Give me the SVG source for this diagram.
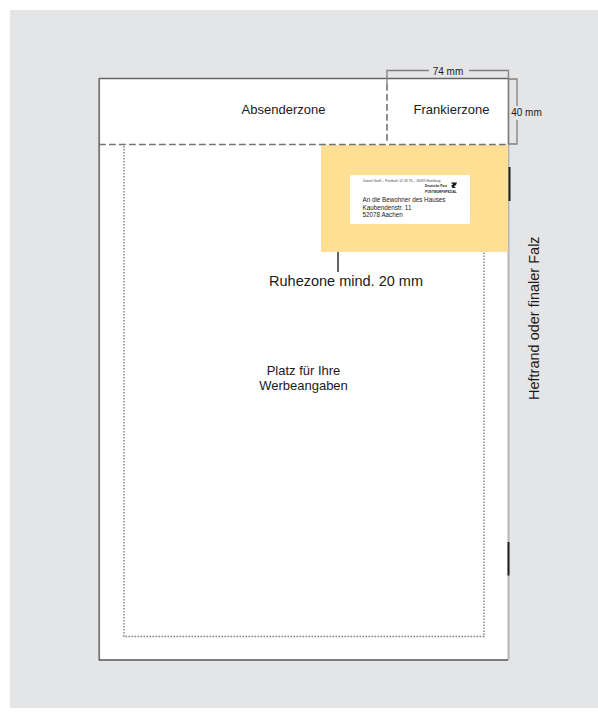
<svg xmlns="http://www.w3.org/2000/svg" width="598" height="718" viewBox="0 0 598 718">
<style>
text{font-family:"Liberation Sans",Arial,sans-serif;fill:#1a1a1a}
.t13{font-size:13px;text-anchor:middle}
.t11{font-size:10px;text-anchor:middle}
.dim{fill:none;stroke:#808080;stroke-width:1.300}
.dash{fill:none;stroke:#737373;stroke-width:1.600;stroke-dasharray:6.800 3.200}
</style>
<rect width="598" height="718" fill="#fff"/>
<rect x="10" y="10" width="588" height="698" fill="#e4e5e7"/>
<g id="paper">
<rect x="99" y="78" width="409" height="582" fill="#fff"/>
<path d="M508.500 79V660" fill="none" stroke="#b4b6b6" stroke-width="2"/>
<path d="M99 78.500H508" fill="none" stroke="#666" stroke-width="1.300"/>
<path d="M99.200 78V660.500" fill="none" stroke="#777" stroke-width="1.800"/>
<path d="M99 660H508" fill="none" stroke="#555" stroke-width="1.300"/>
</g>
<g id="werbung">
<path d="M124 146V636.500H484V146" fill="none" stroke="#808080" stroke-width="1.400" stroke-dasharray="1.600 1.400"/>
<text class="t13" x="303.500" y="375">Platz für Ihre</text>
<text class="t13" x="303.500" y="390">Werbeangaben</text>
</g>
<g id="ruhezone">
<rect x="321" y="145" width="187" height="107" fill="#fedf94"/>
<text x="346" y="286" style="font-size:14.500px;text-anchor:middle">Ruhezone mind. 20 mm</text>
</g>
<g id="adresse">
<rect x="350" y="175" width="120" height="49" rx="1" fill="#fff"/>
<text x="363" y="181.500" style="font-size:3.400px;fill:#444">Daniel Groß – Postfach 12 43 76 – 20095 Hamburg</text>
<text x="425" y="187" style="font-size:3.200px;font-weight:bold">Deutsche Post</text>
<text x="425" y="192.500" style="font-size:3.200px;font-weight:bold">POSTWURFSPEZIAL</text>
<path d="M451 182.500h6l-1 2.500-2 1.500 2 1.500h-3.500l-1.500-2.500 2-.5z" fill="#1a1a1a"/>
<text x="362.500" y="202" style="font-size:6.300px">An die Bewohner des Hauses</text>
<text x="362.500" y="210" style="font-size:6.300px">Kaubendenstr. 11</text>
<text x="362.500" y="217" style="font-size:6.300px">52078 Aachen</text>
</g>
<g id="absenderzone"><text class="t13" x="283.500" y="113.500">Absenderzone</text></g>
<g id="frankierzone"><text class="t13" x="451.500" y="113.500">Frankierzone</text></g>
<g id="masse">
<text class="t11" x="448" y="74.500">74 mm</text>
<text class="t11" x="526.500" y="115.500">40 mm</text>
</g>
<g id="falz">
<text x="0" y="0" transform="translate(538.500 400) rotate(-90)" style="font-size:14.500px">Heftrand oder finaler Falz</text>
</g>
<g id="connectors">
<path class="dash" d="M99 144.500H508"/>
<path class="dash" d="M387 84V144"/>
<path class="dim" d="M387 84V70.500H429M469 70.500H508.500V144"/>
<path class="dim" d="M508 79H517V106M517 120V144H508"/>
<path d="M338 252V272" fill="none" stroke="#111" stroke-width="1.300"/>
<path d="M509.500 167V201M508.500 542V575.500" fill="none" stroke="#222" stroke-width="2"/>
</g>
</svg>
